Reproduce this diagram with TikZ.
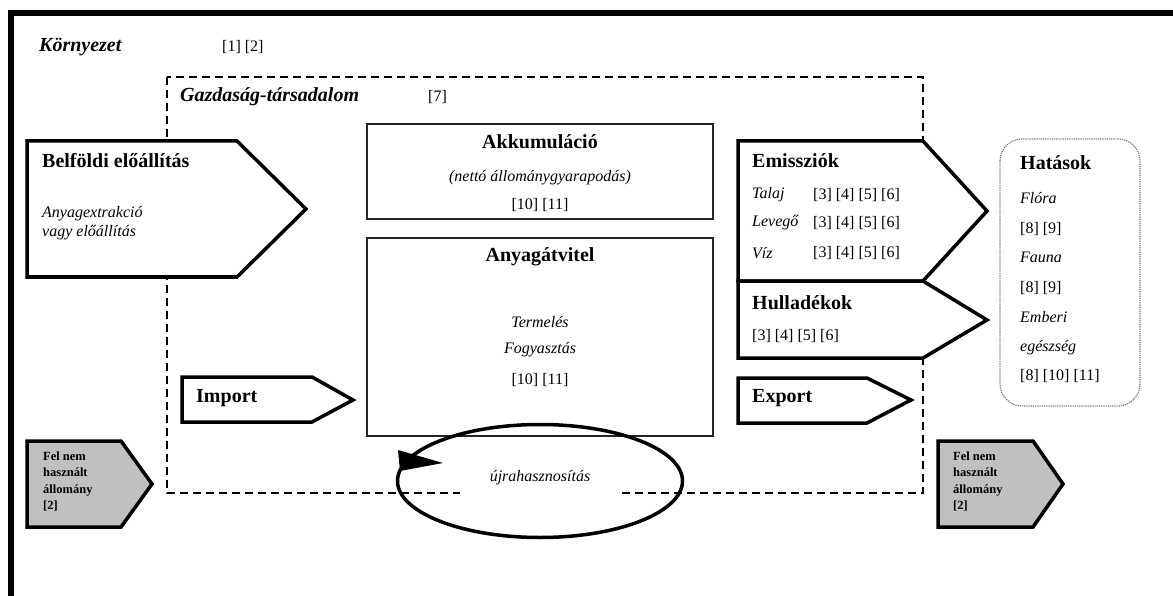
\documentclass[tikz,border=0pt]{standalone}
\usepackage{fontspec}
\setmainfont{Liberation Serif}
\usepackage{tikz}
\usetikzlibrary{positioning}
\definecolor{felgray}{RGB}{192,192,192}
\definecolor{hatgray}{RGB}{120,120,120}

\begin{document}
\begin{tikzpicture}[x=1pt,y=-1pt,
  head/.style={font=\fontsize{20}{24}\selectfont\bfseries, inner sep=0pt},
  headit/.style={font=\fontsize{20}{24}\selectfont\bfseries\itshape, inner sep=0pt},
  txt/.style={font=\fontsize{16}{19}\selectfont, inner sep=0pt},
  itxt/.style={font=\fontsize{16}{19}\selectfont\itshape, inner sep=0pt},
  smalltxt/.style={font=\fontsize{12.5}{16.3}\selectfont\bfseries, inner sep=0pt, align=left},
  arrbox/.style={draw, line width=3.5pt, fill=white},
  flowbox/.style={draw=black!85, line width=1.3pt, fill=white}]
\useasboundingbox (0,0) rectangle (1173,596);

% Környezet
\draw[line width=6pt] (11,596) -- (11,13) -- (1173,13);
\node[headit, anchor=west] (korny) at (39,47) {Környezet};
\node[txt, anchor=west] (kornyref) at (222,47) {[1] [2]};

% Gazdaság-társadalom
\draw[line width=1.4pt, dash pattern=on 8pt off 5pt] (167,77) rectangle (923,493);
\node[headit, anchor=west] (gazd) at (180,97) {Gazdaság-társadalom};
\node[txt, anchor=west] (gazdref) at (428,97) {[7]};

% Belföldi előállítás
\draw[arrbox] (27,141) -- (237,141) -- (306,209) -- (237,277) -- (27,277) -- cycle;
\node[head, anchor=west] (belf) at (42,161) {Belföldi előállítás};
\node[itxt, anchor=west, align=left] (belfsub) at (42,223.5) {Anyagextrakció\\vagy előállítás};

% Akkumuláció
\draw[flowbox] (367,124) rectangle (713,219);
\node[head] (akku) at (540,142) {Akkumuláció};
\node[itxt] (akkusub) at (540,178) {(nettó állománygyarapodás)};
\node[txt] (akkuref) at (540,205) {[10] [11]};

% Anyagátvitel
\draw[flowbox] (367,238) rectangle (713,436);
\node[head] (anyag) at (540,257) {Anyagátvitel};
\node[itxt] (term) at (540,322) {Termelés};
\node[itxt] (fogy) at (540,350) {Fogyasztás};
\node[txt] (anyagref) at (540,380) {[10] [11]};

% Import / Export
\draw[arrbox] (182,377) -- (312,377) -- (353,400) -- (312,422) -- (182,422) -- cycle;
\node[head, anchor=west] (imp) at (196,398) {Import};
\draw[arrbox] (738,378) -- (867,378) -- (911,400) -- (867,423) -- (738,423) -- cycle;
\node[head, anchor=west] (exp) at (752,398) {Export};

% Emissziók
\draw[arrbox] (738,141) -- (923,141) -- (987,211) -- (923,281) -- (738,281) -- cycle;
\node[head, anchor=west] (emi) at (752,161) {Emissziók};
\foreach \yy/\t [count=\i] in {195/Talaj, 223/Levegő, 253/Víz} {
    \node[itxt, anchor=west] (emi\i) at (752,\yy) {\t};
    \node[txt, anchor=west] (emiref\i) at (813,\yy) {[3] [4] [5] [6]};
}

% Hulladékok
\draw[arrbox] (738,281) -- (923,281) -- (987,320) -- (923,358) -- (738,358) -- cycle;
\node[head, anchor=west] (hull) at (752,303) {Hulladékok};
\node[txt, anchor=west] (hullref) at (752,336) {[3] [4] [5] [6]};

% Hatások
\draw[hatgray, densely dotted, line width=1.2pt, rounded corners=22pt] (1000,139) rectangle (1140,406);
\node[head, anchor=west] (hat) at (1020,163) {Hatások};
\foreach \yy/\t [count=\i] in {198/\textit{Flóra}, 229/{[8] [9]}, 257/\textit{Fauna}, 288/{[8] [9]},
    317/\textit{Emberi}, 348/\textit{egészség}, 376/{[8] [10] [11]}} {
    \node[txt, anchor=west] (hat\i) at (1020,\yy) {\t};
}

% Fel nem használt állomány
\draw[arrbox, fill=felgray] (27,441) -- (121,441) -- (152,484) -- (121,527) -- (27,527) -- cycle;
\node[smalltxt, anchor=west] (felL) at (43,481.5) {Fel nem\\használt\\állomány\\{}[2]};
\draw[arrbox, fill=felgray] (938,441) -- (1033,441) -- (1063,484) -- (1033,527) -- (938,527) -- cycle;
\node[smalltxt, anchor=west] (felR) at (953,481.5) {Fel nem\\használt\\állomány\\{}[2]};

% újrahasznosítás
\draw[line width=3.5pt] (540,481) ellipse [x radius=142.5, y radius=56.5];
\node[itxt, fill=white, minimum width=160pt, minimum height=36pt] (ujra) at (540,478) {újrahasznosítás};
\fill (398,450) -- (443,463) -- (400,471) -- cycle;
\end{tikzpicture}
\end{document}
